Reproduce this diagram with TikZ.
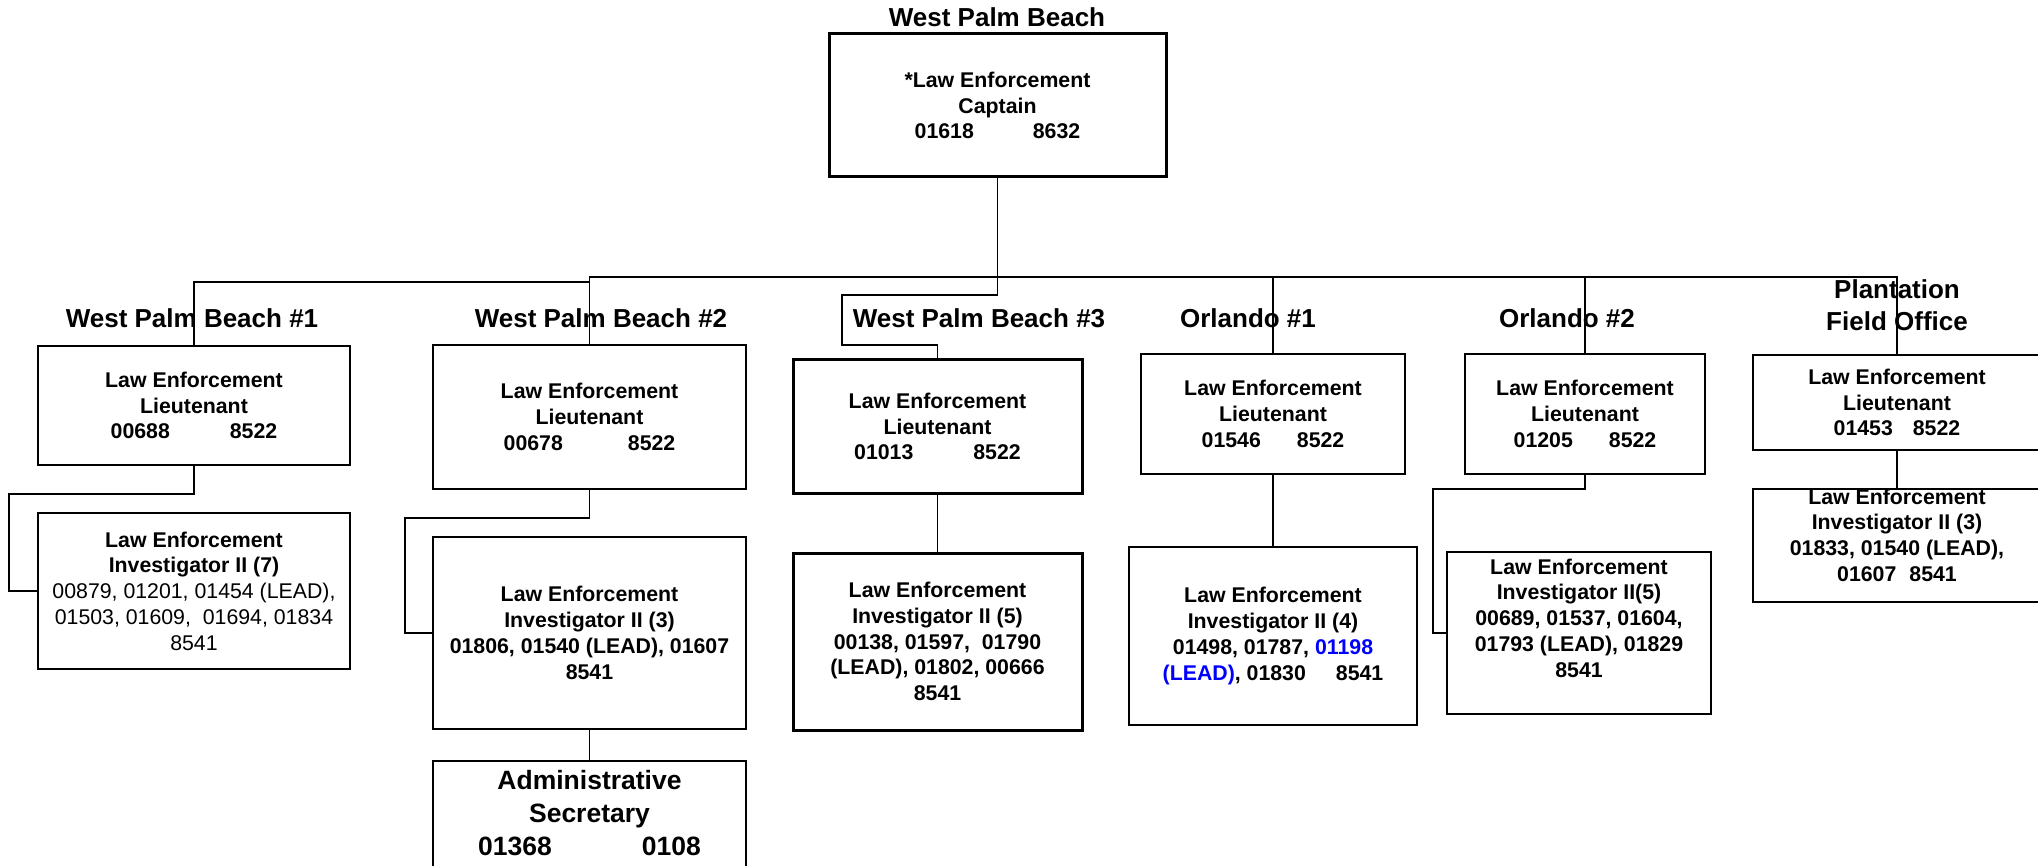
\documentclass[tikz,border=0pt]{standalone}
\usepackage{fontspec}
\setmainfont{Liberation Sans}
\newcommand{\numgap}[1]{\hspace{#1pt}}
\tikzset{mybox/.style={draw,line width=2pt,align=center,inner sep=0pt,
  font=\fontsize{21.3}{25.8}\selectfont\bfseries}}
\tikzset{thickbox/.style={mybox,line width=3pt}}
\tikzset{mytitle/.style={align=center,inner sep=0pt,font=\fontsize{26}{32}\selectfont\bfseries}}
\tikzset{myline/.style={line width=1.4pt}}

\begin{document}
\begin{tikzpicture}[x=1pt,y=-1pt]
	\useasboundingbox (0,0) rectangle (2038,866);

	% Offices
	\node[mytitle] (t0) at (997,17) {West Palm Beach};
	\node[mytitle] (t1) at (192,318) {West Palm Beach \#1};
	\node[mytitle] (t2) at (601,318) {West Palm Beach \#2};
	\node[mytitle] (t3) at (979,318) {West Palm Beach \#3};
	\node[mytitle] (t4) at (1248,318) {Orlando \#1};
	\node[mytitle] (t5) at (1567,318) {Orlando \#2};
	\node[mytitle] (t6) at (1897,305) {Plantation\\Field Office};

	\node[thickbox,minimum width=337pt,minimum height=143pt] (cap) at (997.5,105.5)
		{*Law Enforcement\\Captain\\01618\numgap{59}8632};

	% Lieutenants
	\node[mybox,minimum width=312pt,minimum height=119pt] (lt1) at (194,405.5)
		{Law Enforcement\\Lieutenant\\00688\numgap{60}8522};
	\node[mybox,minimum width=313pt,minimum height=144pt] (lt2) at (589.5,417)
		{Law Enforcement\\Lieutenant\\00678\numgap{65}8522};
	\node[thickbox,minimum width=289pt,minimum height=133pt] (lt3) at (937.5,426.5)
		{Law Enforcement\\Lieutenant\\01013\numgap{60}8522};
	\node[mybox,minimum width=264pt,minimum height=120pt] (lt4) at (1273,414)
		{Law Enforcement\\Lieutenant\\01546\numgap{36}8522};
	\node[mybox,minimum width=240pt,minimum height=120pt] (lt5) at (1585,414)
		{Law Enforcement\\Lieutenant\\01205\numgap{36}8522};
	\node[mybox,minimum width=288pt,minimum height=95pt] (lt6) at (1897,402.5)
		{Law Enforcement\\Lieutenant\\01453\numgap{20}8522};

	% Investigators
	\node[mybox,minimum width=312pt,minimum height=156pt] (inv1) at (194,591)
		{Law Enforcement\\Investigator II (7)\\\mdseries 00879, 01201, 01454 (LEAD),\\\mdseries 01503, 01609,\ \ 01694, 01834\\\mdseries 8541};
	\node[mybox,minimum width=313pt,minimum height=192pt] (inv2) at (589.5,633)
		{Law Enforcement\\Investigator II (3)\\01806, 01540 (LEAD), 01607\\8541};
	\node[thickbox,minimum width=289pt,minimum height=177pt] (inv3) at (937.5,641.5)
		{Law Enforcement\\Investigator II (5)\\00138, 01597,\ \ 01790\\(LEAD), 01802, 00666\\8541};
	\node[mybox,minimum width=288pt,minimum height=178pt] (inv4) at (1273,636)
		{Law Enforcement\\Investigator II (4)\\01498, 01787, \textcolor{blue}{01198}\\\textcolor{blue}{(LEAD)}, 01830\numgap{30}8541};
	\node[mybox,minimum width=264pt,minimum height=162pt,text depth=30pt] (inv5) at (1579,633)
		{Law Enforcement\\Investigator II(5)\\00689, 01537, 01604,\\01793 (LEAD), 01829\\8541};
	\node[mybox,minimum width=288pt,minimum height=105pt,text depth=21pt] (inv6) at (1897,545.5)
		{Law Enforcement\\Investigator II (3)\\01833, 01540 (LEAD),\\01607\numgap{13}8541};

	\node[mybox,anchor=north,minimum width=313pt,inner ysep=9pt,text depth=160pt,
		font=\fontsize{26.5}{33}\selectfont\bfseries] (adm) at (589.5,760)
		{Administrative\\Secretary\\01368\numgap{90}0108};

	% Bus lines
	\coordinate (bus) at (0,277);
	\coordinate (bus1) at (0,282);
	\coordinate (k1) at (842,295);
	\coordinate (k2) at (842,345);
	\coordinate (k3) at (9,494);
	\coordinate (k4) at (405,518);
	\coordinate (k5) at (1433,489);

	\draw[myline] (lt2.north) |- (lt6.north |- bus) -- (lt6.north);
	\draw[myline] (lt1.north) |- (lt2.north |- bus1);
	\draw[myline] (lt4.north) -- (lt4.north |- bus);
	\draw[myline] (lt5.north) -- (lt5.north |- bus);
	\draw[myline] (cap.south) |- (k1) -- (k2) -| (lt3.north);

	\draw[myline] (lt1.south) |- (k3) |- (inv1.west);
	\draw[myline] (lt2.south) |- (k4) |- (inv2.west);
	\draw[myline] (lt5.south) |- (k5) |- (inv5.west);
	\draw[myline] (inv2.south) -- (adm.north);
	\draw[myline] (lt3.south) -- (inv3.north);
	\draw[myline] (lt4.south) -- (inv4.north);
	\draw[myline] (lt6.south) -- (inv6.north);

\end{tikzpicture}
\end{document}
